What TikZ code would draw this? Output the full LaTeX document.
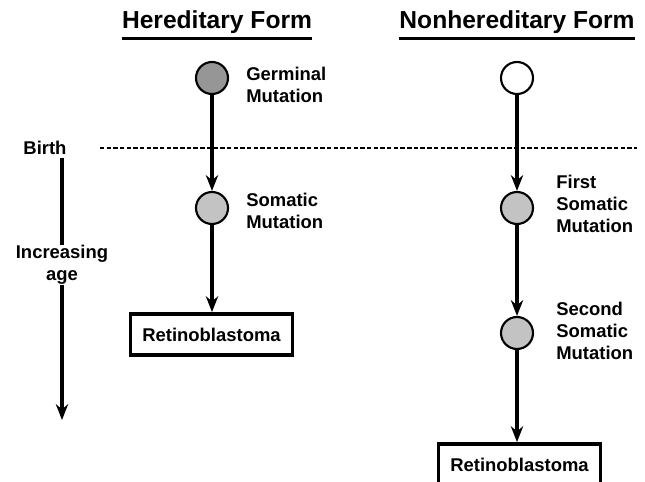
\documentclass[tikz,border=0pt]{standalone}
\usepackage{fontspec}
\setmainfont{Liberation Sans}
\usepackage{tikz}
\usetikzlibrary{arrows.meta,positioning}
\tikzset{
  mutnode/.style ={draw, circle, line width=1.2pt, minimum size=32*0.02cm,
                   inner sep=0pt, fill=#1},
  mutnode/.default=gray!35,
  lbl/.style     ={anchor=west, align=left, inner sep=0pt,
                   font=\fontsize{10.5}{12.5}\selectfont\bfseries},
  ttl/.style     ={font=\fontsize{14}{16}\selectfont\bfseries, inner sep=0pt},
  rbox/.style    ={draw, line width=2.2pt, minimum width=162*0.02cm,
                   minimum height=41*0.02cm, inner sep=0pt,
                   font=\fontsize{10.5}{12}\selectfont\bfseries},
  arr/.style     ={-{Stealth[length=9pt, width=7pt]}, line width=2pt},
}
\definecolor{germgray}{RGB}{150,150,150}
\definecolor{somgray} {RGB}{195,195,195}

\begin{document}
\begin{tikzpicture}[x=0.02cm, y=-0.02cm]
\useasboundingbox (0,0) rectangle (645,482);

% column titles
\node[ttl] (hered) at (217,22) {Hereditary Form};
\node[ttl] (nonher) at (517,22) {Nonhereditary Form};
\draw[line width=1.8pt] ([yshift=-2.5pt]hered.south west) -- ([yshift=-2.5pt]hered.south east);
\draw[line width=1.8pt] ([yshift=-2.5pt]nonher.south west) -- ([yshift=-2.5pt]nonher.south east);

% birth line and age axis
\node[lbl, anchor=center, align=center] (birth) at (45,148) {Birth};
\coordinate (bstart) at (100,148);
\coordinate (bend) at (637,148);
\draw[line width=1.3pt, dash pattern=on 2.5pt off 1.3pt] (bstart) -- (bend);

\node[lbl, anchor=center, align=center] (age) at (62,265) {Increasing\\age};
\coordinate (agetop) at (62,158);
\coordinate (agend) at (62,420);
\draw[line width=2pt] (agetop) -- (age.north);
\draw[arr] (age.south) -- (agend);

% hereditary form
\node[mutnode=germgray] (germ) at (212,78) {};
\node[lbl] (germlbl) at (246,85) {Germinal\\Mutation};

\node[mutnode=somgray] (som) at (212,208) {};
\node[lbl] (somlbl) at (246,211) {Somatic\\Mutation};

\node[rbox] (retl) at (211.5,334.5) {Retinoblastoma};

\draw[arr] (germ) -- (som);
\draw[arr] (som)  -- (som |- retl.north);

% nonhereditary form
\node[mutnode=white] (norm) at (517,78) {};

\node[mutnode=somgray] (first) at (517,208) {};
\node[lbl] (firstlbl) at (556,204) {First\\Somatic\\Mutation};

\node[mutnode=somgray] (second) at (517,333) {};
\node[lbl] (secondlbl) at (556,331) {Second\\Somatic\\Mutation};

\node[rbox] (retr) at (519.5,464.5) {Retinoblastoma};

\draw[arr] (norm)   -- (first);
\draw[arr] (first)  -- (second);
\draw[arr] (second) -- (second |- retr.north);

\end{tikzpicture}
\end{document}
